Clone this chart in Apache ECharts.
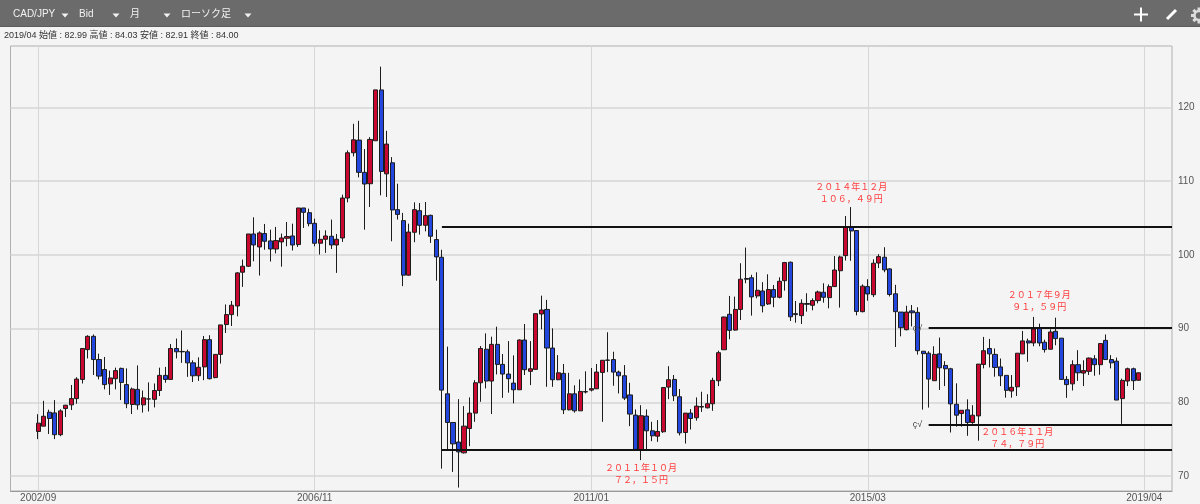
<!DOCTYPE html>
<html>
<head>
<meta charset="utf-8">
<title>CAD/JPY</title>
<style>
  html, body { margin: 0; padding: 0; background: #f4f4f4; }
  #chart { width: 1200px; height: 504px; }
</style>
<script src="https://cdn.jsdelivr.net/npm/echarts@6/dist/echarts.min.js"></script>
</head>
<body>
<div id="chart"></div>
<script>
// monthly candles, 2002/09 to 2019/04
const opens = [
  76.04, 76.76, 78.65, 78.56, 75.6, 79.15, 79.65, 80.5, 83.1, 87.15,
  88.95, 85.8, 84.45, 82.5, 83.2, 84.6, 82.4, 79.7, 81.75, 79.65,
  80.45, 80.4, 81.6, 83.65, 83.1, 87.3, 86.9, 86.85, 85.35, 83.6,
  84.8, 88.5, 83.35, 86.5, 90.55, 91.9, 93.07, 97.65, 98.46, 102.84,
  101.08, 102.9, 101.9, 100.8, 101.76, 102.26, 102.57, 101.4, 106.37, 105.73,
  104.29, 101.58, 102.12, 102.53, 101.35, 102.3, 107.72, 113.86, 115.58, 111.2,
  109.66, 115.49, 122.39, 111.0, 112.5, 106.14, 104.65, 97.25, 103.07, 106.0,
  104.02, 105.37, 102.08, 99.68, 81.15, 77.26, 74.6, 73.14, 76.44, 78.53,
  82.65, 87.2, 82.88, 87.86, 85.14, 83.83, 82.6, 81.7, 88.45, 84.2,
  84.46, 91.98, 92.6, 87.36, 83.06, 83.92, 78.98, 81.15, 78.84, 81.45,
  81.65, 81.83, 84.05, 85.73, 85.8, 84.1, 83.6, 81.0, 78.26, 73.5,
  78.13, 76.13, 75.4, 76.0, 82.06, 83.1, 80.75, 75.9, 78.53, 77.9,
  79.43, 79.25, 79.8, 82.92, 87.13, 91.94, 89.8, 92.6, 96.8, 96.9,
  94.43, 95.1, 93.34, 95.3, 94.25, 96.5, 99.0, 92.03, 91.76, 93.4,
  93.16, 93.8, 94.93, 94.2, 95.7, 97.85, 99.9, 103.74, 103.3, 92.3,
  95.7, 94.6, 98.9, 99.68, 98.1, 94.72, 92.24, 89.85, 92.4, 92.2,
  86.93, 86.66, 82.93, 86.57, 85.0, 84.55, 79.73, 78.47, 78.97, 77.25,
  78.15, 85.13, 87.3, 86.5, 84.8, 83.65, 81.53, 82.1, 86.57, 88.33,
  88.05, 90.1, 88.15, 87.2, 89.63, 88.7, 83.1, 82.5, 85.1, 83.96,
  84.2, 85.9, 85.1, 88.4, 85.8, 85.58, 80.5, 82.88, 84.55, 82.99
];
const closes = [
  77.17, 78.1, 77.8, 75.6, 78.83, 79.6, 80.5, 83.15, 87.3, 88.95,
  85.8, 83.55, 82.4, 83.3, 84.3, 82.7, 79.8, 81.8, 79.65, 80.6,
  80.45, 81.6, 83.65, 83.1, 87.3, 86.85, 86.85, 85.35, 83.6, 84.75,
  88.5, 83.2, 86.5, 90.5, 91.9, 93.17, 97.56, 98.46, 102.84, 101.35,
  102.98, 101.85, 100.8, 101.94, 102.3, 102.5, 101.35, 106.37, 105.78, 104.24,
  101.58, 102.12, 102.57, 101.35, 102.12, 107.72, 113.86, 115.62, 111.2, 109.62,
  115.67, 122.39, 111.33, 115.04, 106.1, 105.5, 97.25, 103.1, 106.14, 104.02,
  105.33, 102.53, 99.73, 81.65, 77.26, 74.36, 73.27, 76.76, 78.53, 82.65,
  87.3, 82.88, 87.86, 85.14, 83.83, 83.2, 81.7, 88.45, 84.42, 84.55,
  92.03, 92.52, 87.36, 83.06, 84.0, 78.98, 81.15, 78.84, 81.47, 81.4,
  81.85, 84.1, 85.7, 85.7, 84.1, 83.6, 80.57, 78.4, 73.6, 78.17,
  76.13, 75.45, 76.04, 82.0, 83.06, 80.88, 75.85, 78.53, 77.8, 79.48,
  79.35, 79.8, 82.97, 86.73, 91.57, 89.76, 92.6, 96.7, 96.7, 94.3,
  95.2, 93.1, 95.3, 94.25, 96.42, 98.96, 91.6, 91.9, 93.43, 93.3,
  93.8, 94.97, 94.25, 95.7, 97.95, 99.72, 103.74, 103.25, 92.33, 95.76,
  94.7, 98.87, 99.77, 97.97, 94.63, 92.3, 90.12, 92.24, 92.15, 87.0,
  86.6, 83.15, 86.5, 84.68, 84.55, 79.78, 78.25, 78.92, 77.25, 78.25,
  85.18, 87.0, 86.57, 84.73, 83.6, 81.62, 82.03, 86.66, 88.33, 88.05,
  89.95, 88.05, 87.15, 89.54, 88.64, 83.1, 82.4, 85.1, 84.0, 84.3,
  86.0, 85.1, 87.97, 85.8, 85.35, 80.3, 82.97, 84.55, 82.93, 84.0
];
const lows = [
  75.0, 76.76, 75.7, 75.0, 75.4, 78.0, 78.95, 79.8, 82.55, 85.95,
  83.7, 83.1, 81.75, 81.0, 81.75, 80.3, 79.2, 78.4, 79.0, 78.6,
  78.75, 79.3, 80.85, 82.65, 83.1, 85.95, 85.35, 83.45, 82.75, 82.9,
  83.0, 83.1, 83.25, 85.25, 89.4, 90.35, 91.67, 95.66, 98.37, 99.14,
  97.2, 100.7, 99.1, 100.2, 98.4, 101.17, 100.6, 101.08, 103.66, 103.88,
  101.17, 100.05, 100.27, 100.8, 97.56, 101.76, 107.13, 113.36, 110.52, 103.43,
  106.5, 115.49, 108.08, 107.86, 101.85, 104.8, 95.76, 97.2, 101.72, 102.75,
  103.2, 101.63, 96.5, 71.0, 73.4, 70.55, 68.43, 73.05, 74.04, 77.35,
  80.07, 81.88, 78.4, 83.78, 80.6, 81.3, 79.85, 81.7, 83.7, 82.33,
  84.46, 89.9, 82.1, 82.1, 83.0, 78.4, 78.9, 78.6, 78.84, 81.2,
  81.47, 81.8, 77.35, 84.1, 82.24, 81.2, 80.3, 76.76, 73.5, 72.15,
  73.6, 74.72, 74.63, 75.85, 80.43, 80.16, 75.5, 74.4, 76.3, 77.5,
  78.7, 79.16, 78.84, 82.2, 87.1, 88.55, 89.7, 91.17, 96.15, 91.76,
  94.1, 92.2, 93.2, 92.9, 94.1, 95.15, 91.03, 90.8, 90.62, 92.3,
  92.48, 93.43, 93.52, 92.75, 95.7, 92.85, 99.23, 99.2, 91.8, 92.2,
  93.78, 94.27, 98.2, 97.65, 94.36, 87.5, 88.95, 89.76, 90.3, 86.47,
  79.0, 79.28, 82.93, 81.67, 82.2, 75.9, 76.7, 76.7, 75.45, 77.07,
  74.79, 84.6, 84.73, 83.47, 82.2, 80.63, 80.63, 80.85, 86.53, 85.5,
  87.6, 87.6, 86.75, 87.15, 87.74, 83.1, 80.6, 81.6, 82.9, 82.2,
  83.7, 83.6, 83.74, 85.8, 84.6, 80.3, 77.07, 82.2, 81.67, 82.91
];
const highs = [
  78.38, 80.2, 79.0, 80.3, 79.05, 79.65, 82.35, 83.4, 87.3, 89.1,
  89.2, 86.6, 86.15, 84.3, 84.7, 84.7, 84.6, 82.0, 85.0, 81.6,
  82.7, 82.55, 84.7, 84.8, 87.9, 88.65, 89.75, 87.15, 85.7, 86.1,
  89.0, 89.1, 86.5, 90.5, 93.27, 93.75, 97.65, 99.37, 102.84, 105.1,
  103.2, 104.2, 103.43, 103.8, 102.9, 104.47, 104.24, 106.37, 106.37, 106.28,
  104.92, 103.34, 103.34, 104.79, 102.84, 108.17, 114.18, 117.79, 118.2, 114.36,
  115.98, 122.39, 125.55, 116.84, 113.27, 109.66, 105.7, 104.24, 107.13, 107.04,
  107.18, 105.46, 103.43, 100.7, 87.55, 77.26, 80.43, 79.48, 80.66, 83.0,
  87.63, 89.35, 88.9, 90.26, 86.55, 88.3, 86.36, 88.54, 90.62, 88.3,
  92.03, 94.47, 93.9, 90.03, 86.4, 85.2, 84.0, 82.3, 83.1, 84.2,
  84.65, 85.2, 85.73, 89.5, 86.86, 84.3, 85.05, 82.65, 79.03, 79.6,
  79.03, 77.35, 77.58, 82.0, 84.9, 83.7, 81.8, 78.53, 79.07, 80.66,
  81.43, 81.1, 83.33, 87.0, 91.62, 94.43, 94.34, 98.87, 101.0, 97.3,
  97.64, 96.3, 97.37, 95.92, 96.96, 99.05, 99.1, 93.75, 93.97, 94.8,
  94.1, 95.15, 96.15, 96.0, 99.85, 99.9, 105.28, 106.49, 103.38, 96.0,
  96.7, 99.4, 100.1, 101.04, 98.2, 95.94, 92.24, 93.1, 93.2, 92.9,
  86.93, 86.93, 87.6, 88.78, 85.58, 84.68, 82.57, 78.92, 80.4, 79.6,
  85.18, 88.87, 88.6, 87.3, 85.94, 83.65, 83.7, 86.66, 89.68, 88.64,
  91.59, 90.67, 88.5, 89.9, 91.48, 88.7, 83.55, 85.7, 87.07, 85.7,
  86.07, 86.4, 87.97, 89.2, 86.4, 86.07, 83.2, 84.7, 84.7, 84.03
];

// empty slots either side of the candles
const padBefore = 5;
const padAfter = 5;

const tickLabels = { 0: "2002/09", 50: "2006/11", 100: "2011/01", 150: "2015/03", 200: "2019/04" };
const priceTicks = [70, 80, 90, 100, 110, 120];

// support and resistance lines: start candle, price
const levelLines = [
  { from: 73, price: 103.8 },
  { from: 73, price: 73.5 },
  { from: 161, price: 90.08 },
  { from: 161, price: 77 }
];

const notes = [
  { at: 147, price: 108.47, text: "２０１４年１２月\n１０６，４９円" },
  { at: 109, price: 70.34, text: "２０１１年１０月\n７２，１５円" },
  { at: 181, price: 93.75, text: "２０１７年９月\n９１，５９円" },
  { at: 177, price: 75.22, text: "２０１６年１１月\n７４，７９円" }
];
const lineMarks = [
  { at: 159, price: 90.05, text: "ç√" },
  { at: 159, price: 77.05, text: "ç√" }
];

const candleCount = opens.length;
const totalSlots = padBefore + candleCount + padAfter + 1;

const categories = [];
const candles = [];
for (let s = 0; s < totalSlots; s++) {
  const i = s - padBefore;
  categories.push(String(s));
  if (i >= 0 && i < candleCount) {
    candles.push([opens[i], closes[i], lows[i], highs[i]]);
  } else {
    candles.push(["-", "-", "-", "-"]);
  }
}

const uiFont = '"Liberation Sans", "Noto Sans CJK JP", sans-serif';
const barText = (x, text) => ({
  type: "text",
  left: x,
  top: 9,
  z: 20,
  style: { text, fill: "#f2f2f2", font: "10px " + uiFont }
});
const barArrow = (x) => ({
  type: "polygon",
  z: 20,
  shape: { points: [[x - 3.5, 13.5], [x + 3.5, 13.5], [x, 17.5]] },
  style: { fill: "#f2f2f2" }
});

// toolbar gear, cut off by the window edge
const gearAt = [1199, 15.5];
const gearTeeth = [0, 45, 90, 135].map((deg) => {
  const c = Math.cos((deg * Math.PI) / 180) * 8;
  const s = Math.sin((deg * Math.PI) / 180) * 8;
  return {
    type: "line",
    z: 20,
    shape: { x1: gearAt[0] - c, y1: gearAt[1] - s, x2: gearAt[0] + c, y2: gearAt[1] + s },
    style: { stroke: "#dcdcdc", lineWidth: 3 }
  };
});

const chart = echarts.init(document.getElementById("chart"), null, { renderer: "canvas" });

chart.setOption({
  animation: false,
  backgroundColor: "#f4f4f4",
  textStyle: { fontFamily: uiFont },
  grid: {
    show: true,
    left: 10.5,
    top: 46,
    right: 28,
    bottom: 13,
    containLabel: false,
    backgroundColor: "#f4f4f4",
    borderColor: "#b0b0b0",
    borderWidth: 1
  },
  xAxis: {
    type: "category",
    data: categories,
    boundaryGap: false,
    axisLine: { lineStyle: { color: "#999" } },
    axisTick: { show: false },
    splitLine: {
      show: true,
      interval: (idx) => tickLabels[idx - padBefore] !== undefined,
      lineStyle: { color: "#d6d6d6", width: 1 }
    },
    axisLabel: {
      interval: (idx) => tickLabels[idx - padBefore] !== undefined,
      formatter: (v, idx) => tickLabels[idx - padBefore] || "",
      color: "#555",
      fontSize: 10,
      margin: 2,
      hideOverlap: false
    }
  },
  yAxis: {
    type: "value",
    position: "right",
    min: 67.96,
    max: 128.35,
    axisLine: { show: false },
    axisTick: { show: false, customValues: priceTicks },
    splitLine: { show: true, lineStyle: { color: "#d6d6d6", width: 1.5 } },
    axisLabel: { customValues: priceTicks, color: "#555", fontSize: 10, margin: 6, padding: [2, 0, 0, 0] }
  },
  series: [
    {
      type: "candlestick",
      data: candles,
      barWidth: 4.6,
      clip: true,
      itemStyle: {
        color: "#c8082e",
        color0: "#2346dc",
        borderColor: "#1c1c1c",
        borderColor0: "#1c1c1c",
        borderColorDoji: "#1c1c1c",
        borderWidth: 1
      },
      markLine: {
        silent: true,
        symbol: "none",
        animation: false,
        label: { show: false },
        lineStyle: { color: "#111", width: 2, type: "solid" },
        data: levelLines.map((l) => [
          { coord: [l.from + padBefore, l.price] },
          { coord: [totalSlots - 1, l.price] }
        ])
      },
      markPoint: {
        silent: true,
        animation: false,
        symbol: "circle",
        symbolSize: 0,
        data: notes.map((n) => ({
          coord: [n.at + padBefore, n.price],
          label: {
            show: true,
            position: "inside",
            formatter: n.text,
            color: "#ff3c3c",
            fontSize: 9,
            lineHeight: 12,
            fontFamily: '"Noto Sans CJK JP", sans-serif'
          }
        })).concat(lineMarks.map((m) => ({
          coord: [m.at + padBefore, m.price],
          label: {
            show: true,
            position: "inside",
            formatter: m.text,
            color: "#444",
            fontSize: 9
          }
        })))
      }
    }
  ],
  graphic: [
    { type: "rect", z: 19, shape: { x: 0, y: 0, width: 1200, height: 27 }, style: { fill: "#6b6b6b" } },
    { type: "rect", z: 19, shape: { x: 0, y: 26, width: 1200, height: 1 }, style: { fill: "#5c5c5c" } },
    barText(13, "CAD/JPY"),
    barArrow(65),
    barText(79, "Bid"),
    barArrow(116),
    barText(130, "月"),
    barArrow(167),
    barText(181, "ローソク足"),
    barArrow(248),
    // plus, pencil and gear on the right of the bar
    { type: "rect", z: 20, shape: { x: 1134, y: 13.5, width: 14, height: 2 }, style: { fill: "#fff" } },
    { type: "rect", z: 20, shape: { x: 1140, y: 7.5, width: 2, height: 14 }, style: { fill: "#fff" } },
    {
      type: "line",
      z: 20,
      shape: { x1: 1167, y1: 19, x2: 1176, y2: 10 },
      style: { stroke: "#fff", lineWidth: 3 }
    },
    ...gearTeeth,
    {
      type: "circle",
      z: 21,
      shape: { cx: gearAt[0], cy: gearAt[1], r: 4.5 },
      style: { fill: "#6b6b6b", stroke: "#dcdcdc", lineWidth: 2.5 }
    },
    {
      type: "text",
      left: 4,
      top: 31,
      z: 20,
      style: {
        text: "2019/04 始値 : 82.99 高値 : 84.03 安値 : 82.91 終値 : 84.00",
        fill: "#333",
        font: "9px " + uiFont
      }
    }
  ]
});
</script>
</body>
</html>
